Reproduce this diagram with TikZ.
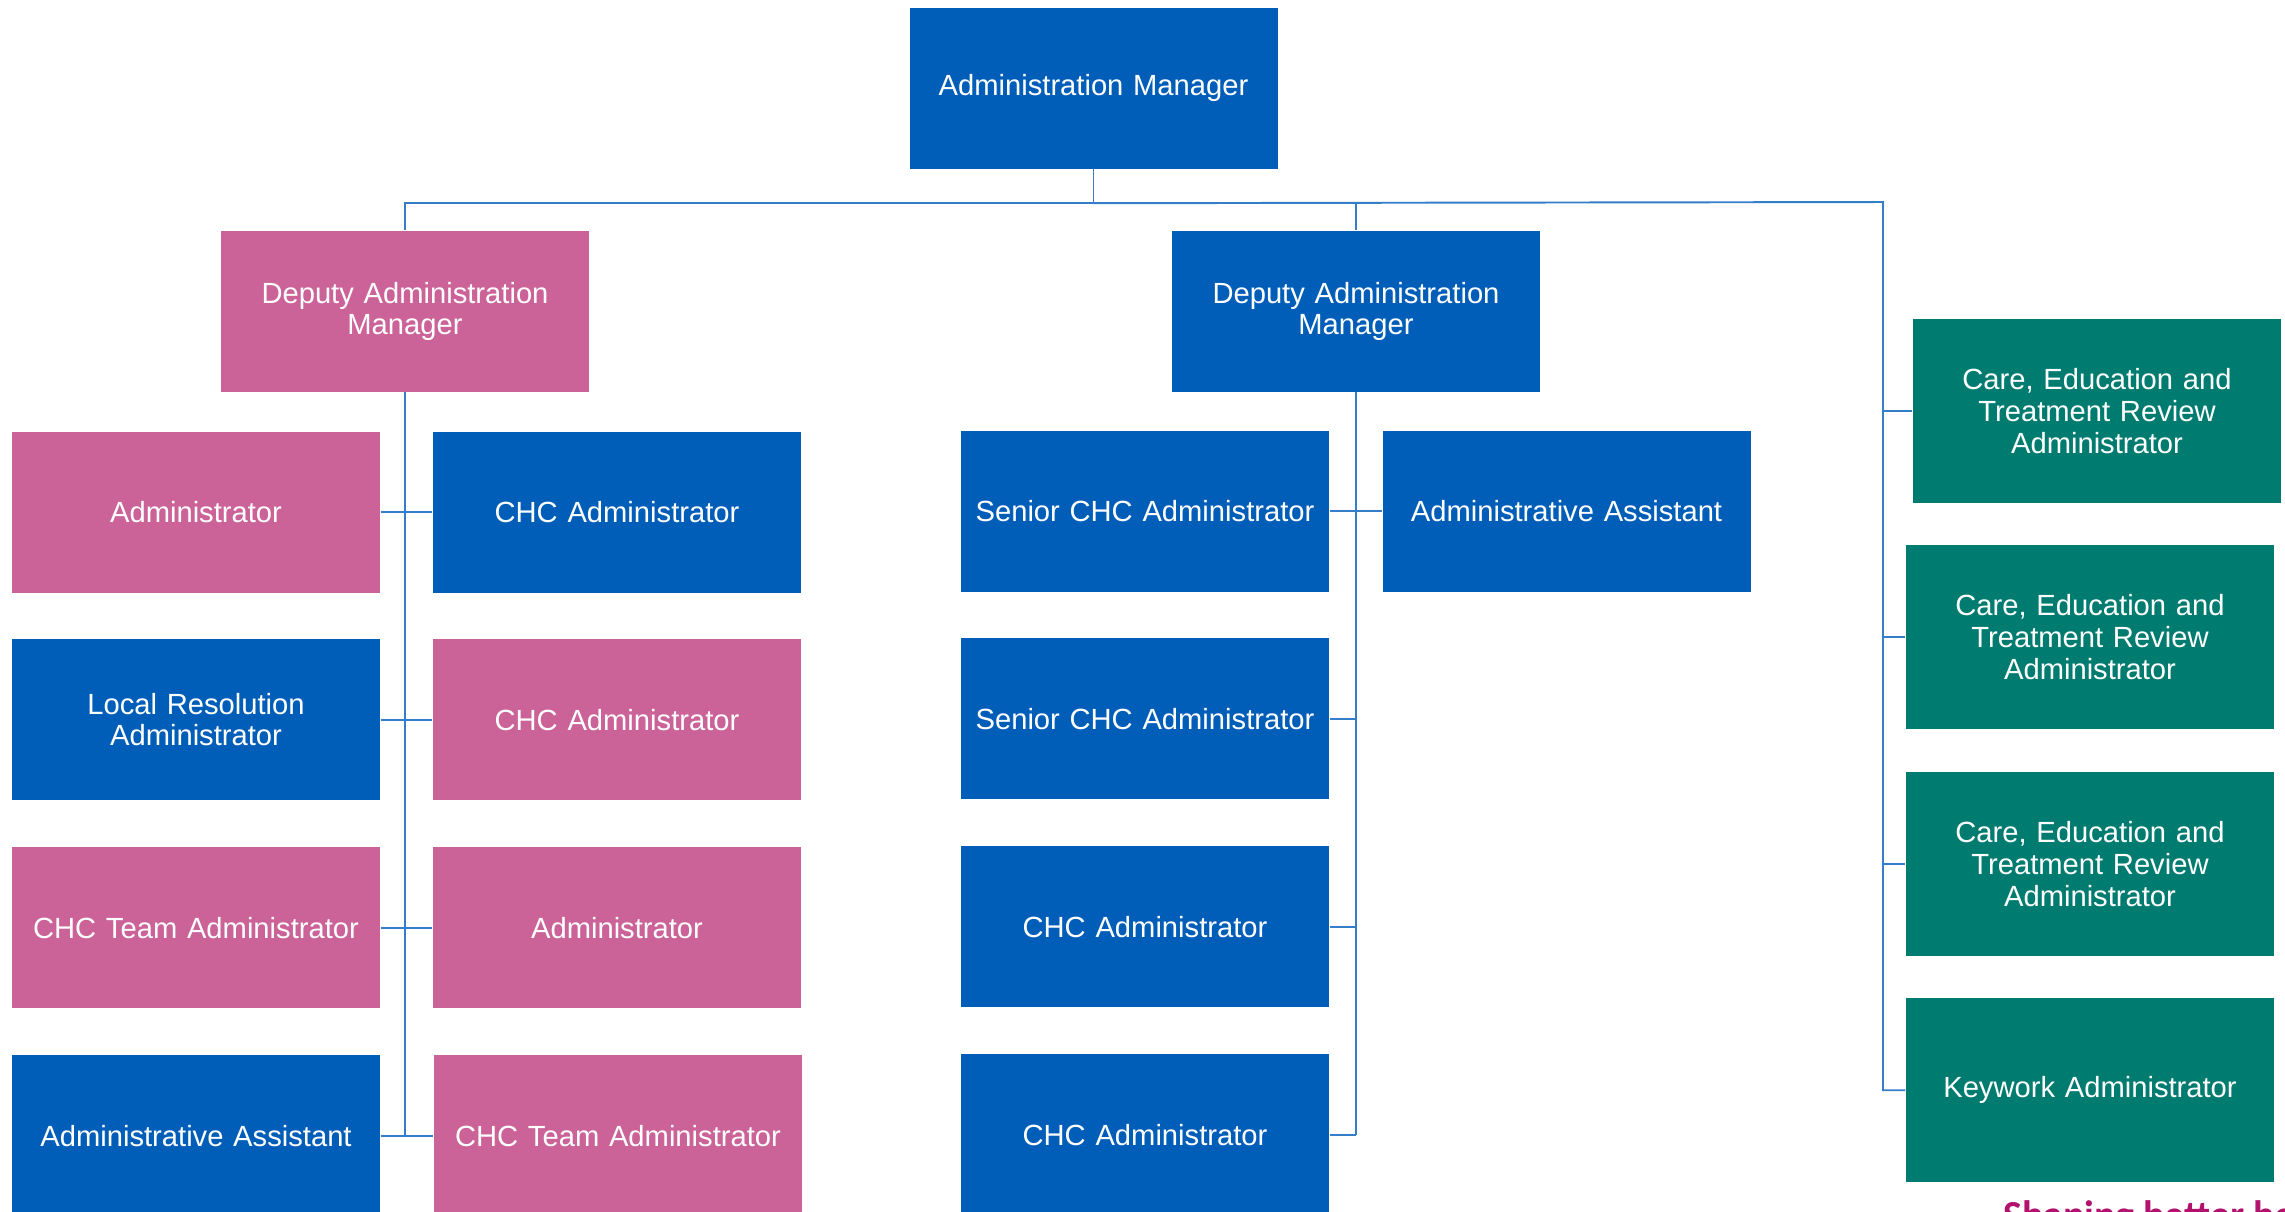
\documentclass[tikz,border=0pt]{standalone}
\usepackage{fontspec}
\setmainfont{Liberation Sans}
\newfontfamily\tagfont{Carlito}
\usetikzlibrary{positioning}

\definecolor{nhsblue}{RGB}{0,94,184}
\definecolor{nhspink}{RGB}{203,98,152}
\definecolor{nhsgreen}{RGB}{0,123,112}
\definecolor{linkblue}{RGB}{52,125,200}
\definecolor{tagpink}{RGB}{178,18,110}

\tikzset{
  post/.style={minimum width=3.68cm, minimum height=1.61cm, inner sep=0pt,
    text width=3.5cm, align=center, text=white,
    font=\fontsize{8.3}{8.8}\selectfont},
  bluepost/.style={post, fill=nhsblue},
  pinkpost/.style={post, fill=nhspink},
  greenpost/.style={post, fill=nhsgreen, minimum height=1.84cm,
    font=\fontsize{8.3}{9.1}\selectfont},
  link/.style={draw=linkblue, line width=0.55pt}
}

\begin{document}
\begin{tikzpicture}
                \useasboundingbox (0,0) rectangle (22.85,-12.11);
                \node [bluepost] (am) at (10.935,-0.88) {Administration Manager};
                \node [pinkpost] (dl) at (4.05,-3.11) {Deputy Administration\\Manager};
                \node [bluepost] (dr) at (13.56,-3.11) {Deputy Administration\\Manager};
                \node [pinkpost] (la1) at (1.96,-5.12) {Administrator};
                \node [bluepost, below=.455cm of la1] (la2) {Local Resolution\\Administrator};
                \node [pinkpost, below=.455cm of la2] (la3) {CHC Team Administrator};
                \node [bluepost, below=.455cm of la3] (la4) {Administrative Assistant};
                \node [bluepost] (lb1) at (6.17,-5.12) {CHC Administrator};
                \node [pinkpost, below=.455cm of lb1] (lb2) {CHC Administrator};
                \node [pinkpost, below=.455cm of lb2] (lb3) {Administrator};
                \node [pinkpost, below=.455cm of lb3, xshift=.01cm] (lb4) {CHC Team Administrator};
                \node [bluepost] (ma1) at (11.45,-5.11) {Senior CHC Administrator};
                \node [bluepost, below=.455cm of ma1] (ma2) {Senior CHC Administrator};
                \node [bluepost, below=.455cm of ma2] (ma3) {CHC Administrator};
                \node [bluepost, below=.455cm of ma3] (ma4) {CHC Administrator};
                \node [bluepost] (mb1) at (15.665,-5.11) {Administrative Assistant};
                \node [greenpost] (g1) at (20.97,-4.11) {Care, Education and\\Treatment Review\\Administrator};
                \node [greenpost, below=.41cm of g1, xshift=-.07cm] (g2) {Care, Education and\\Treatment Review\\Administrator};
                \node [greenpost, below=.41cm of g2] (g3) {Care, Education and\\Treatment Review\\Administrator};
                \node [greenpost, below=.41cm of g3] (g4) {Keywork Administrator};
                \node [anchor=base west, inner sep=0pt, text=tagpink,
                  font=\tagfont\bfseries\fontsize{11.3}{12}\selectfont] (tag) at (20.03,-12.28) {Shaping better health};
                \coordinate (bus) at ([yshift=-.34cm]am.south);
                \coordinate (gs) at (18.83,-2.02);
                \draw [link] (am.south) -- (bus);
                \draw [link] (bus) -| (dl.north);
                \draw [link] (bus) -| (dr.north);
                \draw [link] (bus) -- (gs) |- (g4.west);
                \draw [link] (gs) |- (g1.west);
                \draw [link] (gs) |- (g2.west);
                \draw [link] (gs) |- (g3.west);
                \draw [link] (dl.south) -- (dl.south |- la4.east);
                \draw [link] (la1.east) -- (lb1.west);
                \draw [link] (la2.east) -- (lb2.west);
                \draw [link] (la3.east) -- (lb3.west);
                \draw [link] (la4.east) -- (lb4.west);
                \draw [link] (dr.south) -- (dr.south |- ma4.east);
                \draw [link] (ma1.east) -- (mb1.west);
                \draw [link] (ma2.east) -- (dr.south |- ma2.east);
                \draw [link] (ma3.east) -- (dr.south |- ma3.east);
                \draw [link] (ma4.east) -- (dr.south |- ma4.east);
            \end{tikzpicture}
\end{document}
